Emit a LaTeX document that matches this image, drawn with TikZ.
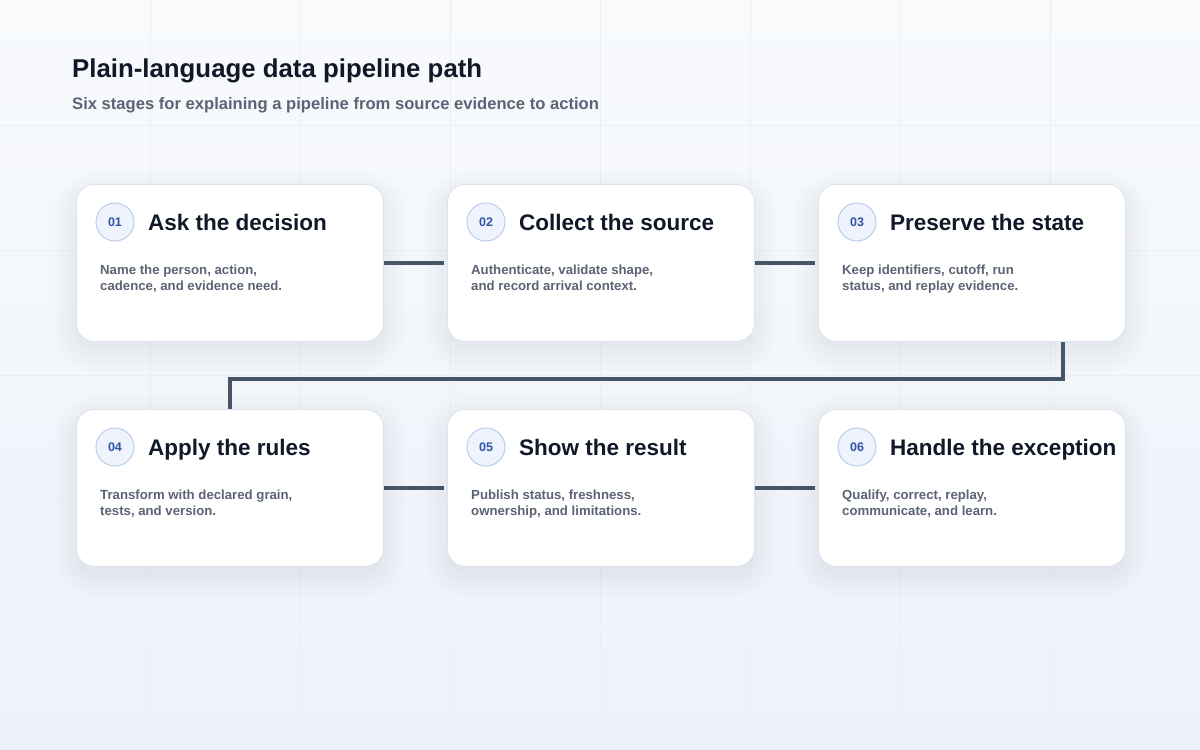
\documentclass[tikz,border=0pt]{standalone}
\usepackage{fontspec}
\setmainfont{Liberation Sans}
\usetikzlibrary{calc}
\definecolor{bgtop}{HTML}{F8FAFC}
\definecolor{bgbot}{HTML}{EDF2FA}
\definecolor{gridc}{HTML}{EBEFF5}
\definecolor{titlec}{HTML}{111827}
\definecolor{bodyc}{HTML}{5B6474}
\definecolor{badgefill}{HTML}{EEF3FD}
\definecolor{badgeline}{HTML}{BCCDEB}
\definecolor{badgetext}{HTML}{2F55A4}
\definecolor{linkc}{HTML}{475569}
\definecolor{cardline}{HTML}{DDE3EC}
\definecolor{shadowc}{HTML}{1E2A4A}
\tikzset{
  cardbox/.style={draw=cardline, line width=0.8pt, fill=white, rounded corners=18pt,
    minimum width=307pt, minimum height=157pt, inner sep=0pt, anchor=north west},
  badge/.style={circle, draw=badgeline, line width=1pt, fill=badgefill, minimum size=38pt, inner sep=0pt,
    font=\fontsize{12.5}{14}\selectfont\bfseries, text=badgetext},
  cardtitle/.style={anchor=base west, inner sep=0pt, font=\fontsize{22.5}{26}\selectfont\bfseries, text=titlec},
  cardbody/.style={anchor=base west, inner sep=0pt, font=\fontsize{13.2}{16}\selectfont\bfseries, text=bodyc},
  link/.style={draw=linkc, line width=3.6pt},
  shadowlayer/.style={fill=shadowc, fill opacity=0.005, rounded corners=#1},
}
\newcommand{\stagecard}[7]{%
  \foreach \s in {0,2,...,26} {
    \fill[shadowlayer=18pt+\s pt] (#2-\s+2,#3-\s+12) rectangle (#2+307+\s-2,#3+157+\s+6);
  }
  \node[cardbox] (#1) at (#2,#3) {};
  \node[badge] (#1b) at (#2+39,#3+38) {#4};
  \node[cardtitle] (#1t) at (#2+72,#3+46) {#5};
  \node[cardbody] (#1l1) at (#2+24,#3+90) {#6};
  \node[cardbody] (#1l2) at (#2+24,#3+106) {#7};
}
\begin{document}
\begin{tikzpicture}[x=1pt,y=-1pt]
\useasboundingbox (0,0) rectangle (1200,750);
\shade[top color=bgtop, bottom color=bgbot] (0,0) rectangle (1200,750);
\foreach \gx in {150,300,...,1050} \draw[gridc, line width=0.7pt] (\gx,0) -- (\gx,750);
\foreach \gy in {125,250,...,625} \draw[gridc, line width=0.7pt] (0,\gy) -- (1200,\gy);
\node[anchor=base west, inner sep=0pt, font=\fontsize{25.8}{30}\selectfont\bfseries, text=titlec] (head) at (72,77) {Plain-language data pipeline path};
\node[anchor=base west, inner sep=0pt, font=\fontsize{16.6}{20}\selectfont\bfseries, text=bodyc] (sub) at (72,109) {Six stages for explaining a pipeline from source evidence to action};
\stagecard{c1}{76}{184}{01}{Ask the decision}{Name the person, action,}{cadence, and evidence need.}
\stagecard{c2}{447}{184}{02}{Collect the source}{Authenticate, validate shape,}{and record arrival context.}
\stagecard{c3}{818}{184}{03}{Preserve the state}{Keep identifiers, cutoff, run}{status, and replay evidence.}
\stagecard{c4}{76}{409}{04}{Apply the rules}{Transform with declared grain,}{tests, and version.}
\stagecard{c5}{447}{409}{05}{Show the result}{Publish status, freshness,}{ownership, and limitations.}
\stagecard{c6}{818}{409}{06}{Handle the exception}{Qualify, correct, replay,}{communicate, and learn.}
\draw[link, shorten >=3pt] (c1.east) -- (c2.west);
\draw[link, shorten >=3pt] (c2.east) -- (c3.west);
\draw[link, shorten >=3pt] (c4.east) -- (c5.west);
\draw[link, shorten >=3pt] (c5.east) -- (c6.west);
\coordinate (turn) at ($(c3.south)+(91,0)$);
\coordinate (midrow) at (0,379);
\draw[link] (turn) |- (midrow -| c4.north) -- (c4.north);
\end{tikzpicture}
\end{document}
